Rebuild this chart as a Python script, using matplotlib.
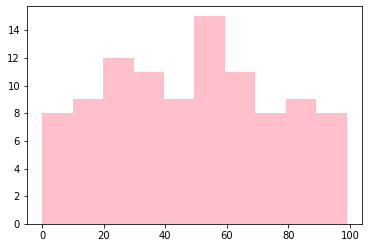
import numpy as np
import matplotlib
matplotlib.use("Agg")
import matplotlib.pyplot as plt

# histogram counts per bin, 10 bins over the data range
counts = [8, 9, 12, 11, 9, 15, 11, 8, 9, 8]
data_min = 0
data_max = 99

edges = np.linspace(data_min, data_max, len(counts) + 1)
centers = (edges[:-1] + edges[1:]) / 2

fig = plt.figure(figsize=(368 / 72, 248 / 72), dpi=72)
ax = fig.add_axes([27 / 368, 24 / 248, 335 / 368, 218 / 248])
ax.hist(centers, bins=edges, weights=counts, color="pink")
ax.set_yticks(range(0, 15, 2))
ax.set_xticks(range(0, 101, 20))

fig.savefig("out.png", dpi=72)
